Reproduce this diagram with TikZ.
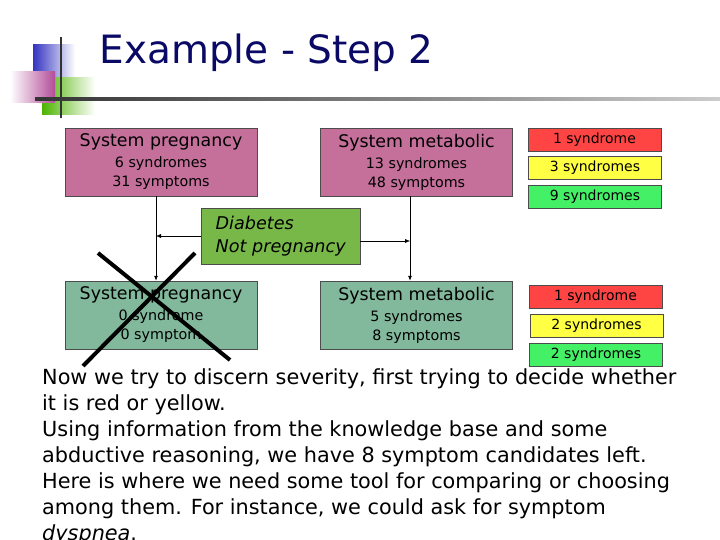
\documentclass[tikz,border=0pt]{standalone}
\usepackage{fontspec}
\setmainfont{DejaVu Sans}
\usetikzlibrary{arrows.meta}
\definecolor{pinkb}{HTML}{C4709A}
\definecolor{tealb}{HTML}{82B89C}
\definecolor{lbl}{HTML}{78B848}
\definecolor{rd}{HTML}{FF4444}
\definecolor{yl}{HTML}{FFFF44}
\definecolor{gr}{HTML}{44F066}
\definecolor{navy}{HTML}{0A0A66}
\begin{document}
\begin{tikzpicture}[x=1pt,y=-1pt,
 sysbox/.style={draw=black!70,minimum width=192pt,minimum height=68pt,inner sep=0pt,align=center,font=\fontsize{14.3}{19}\selectfont},
 tag/.style={draw=black!70,minimum width=133pt,minimum height=23pt,inner sep=0pt,font=\fontsize{14}{16}\selectfont},
 conn/.style={thick,-{Latex[length=5pt,width=4pt]}}]
\useasboundingbox (0,0) rectangle (720,540);
\fill[white] (0,0) rectangle (720,540);
% logo
\shade[left color=blue!70!black!80,right color=white] (33,45) rectangle (75,78);
\shade[left color=green!50!black!60!lime,right color=white] (42,78) rectangle (95,115);
\shade[left color=white,right color=violet!60!pink] (10,72) rectangle (55,103);
\draw[line width=1.5pt,black!80] (61,37) -- (61,118);
\shade[left color=black!80,right color=black!20] (35,98) rectangle (720,100.5);
\node[anchor=west,text=navy,font=\fontsize{39}{42}\selectfont] (title) at (96,53) {Example - Step 2};
% boxes
\node[sysbox,fill=pinkb] (p1) at (161,162) {{\fontsize{17.4}{20}\selectfont System pregnancy}\\[2pt]6 syndromes\\31 symptoms};
\node[sysbox,fill=pinkb] (p2) at (416.5,162) {{\fontsize{17.4}{20}\selectfont System metabolic}\\[2pt]13 syndromes\\48 symptoms};
\node[sysbox,fill=tealb] (t1) at (161,315) {{\fontsize{17.4}{20}\selectfont System pregnancy}\\[2pt]0 syndrome\\0 symptom};
\node[sysbox,fill=tealb] (t2) at (416.5,315) {{\fontsize{17.4}{20}\selectfont System metabolic}\\[2pt]5 syndromes\\8 symptoms};
\node[draw=black!70,fill=lbl,minimum width=159pt,minimum height=56pt,anchor=north west,align=left,inner xsep=2pt,inner ysep=5pt,font=\fontsize{17.6}{23}\selectfont\itshape] (lab) at (201,208) {Diabetes\\Not pregnancy};
\node[tag,fill=rd] (r1) at (594.5,139.5) {1 syndrome};
\node[tag,fill=yl] (y1) at (595,167.5) {3 syndromes};
\node[tag,fill=gr] (g1) at (595,197) {9 syndromes};
\node[tag,fill=rd] (r2) at (595.5,297) {1 syndrome};
\node[tag,fill=yl] (y2) at (596.5,325.5) {2 syndromes};
\node[tag,fill=gr] (g2) at (596,354.5) {2 syndromes};
% connectors
\coordinate (j1) at (156,236);
\coordinate (j2) at (410,241);
\draw[conn] (p1.south -| j1) -- (t1.north -| j1);
\draw[conn] (p2.south -| j2) -- (t2.north -| j2);
\draw[-{Latex[length=5pt,width=4pt]}] (lab.west |- j1) -- (j1);
\draw[-{Latex[length=5pt,width=4pt]}] (lab.east |- j2) -- (j2);
% cross
\draw[line width=4pt] (83,366) -- (195,253);
\draw[line width=4pt] (98,253) -- (230,360);
% body text
\node[anchor=north west,align=left,inner sep=0pt,font=\fontsize{20.8}{26}\selectfont] (body) at (42,368) {Now we try to discern severity, first trying to decide whether\\it is red or yellow.\\Using information from the knowledge base and some\\abductive reasoning, we have 8 symptom candidates left.\\Here is where we need some tool for comparing or choosing\\among them. For instance, we could ask for symptom\\\textit{dyspnea}.};
\end{tikzpicture}
\end{document}
